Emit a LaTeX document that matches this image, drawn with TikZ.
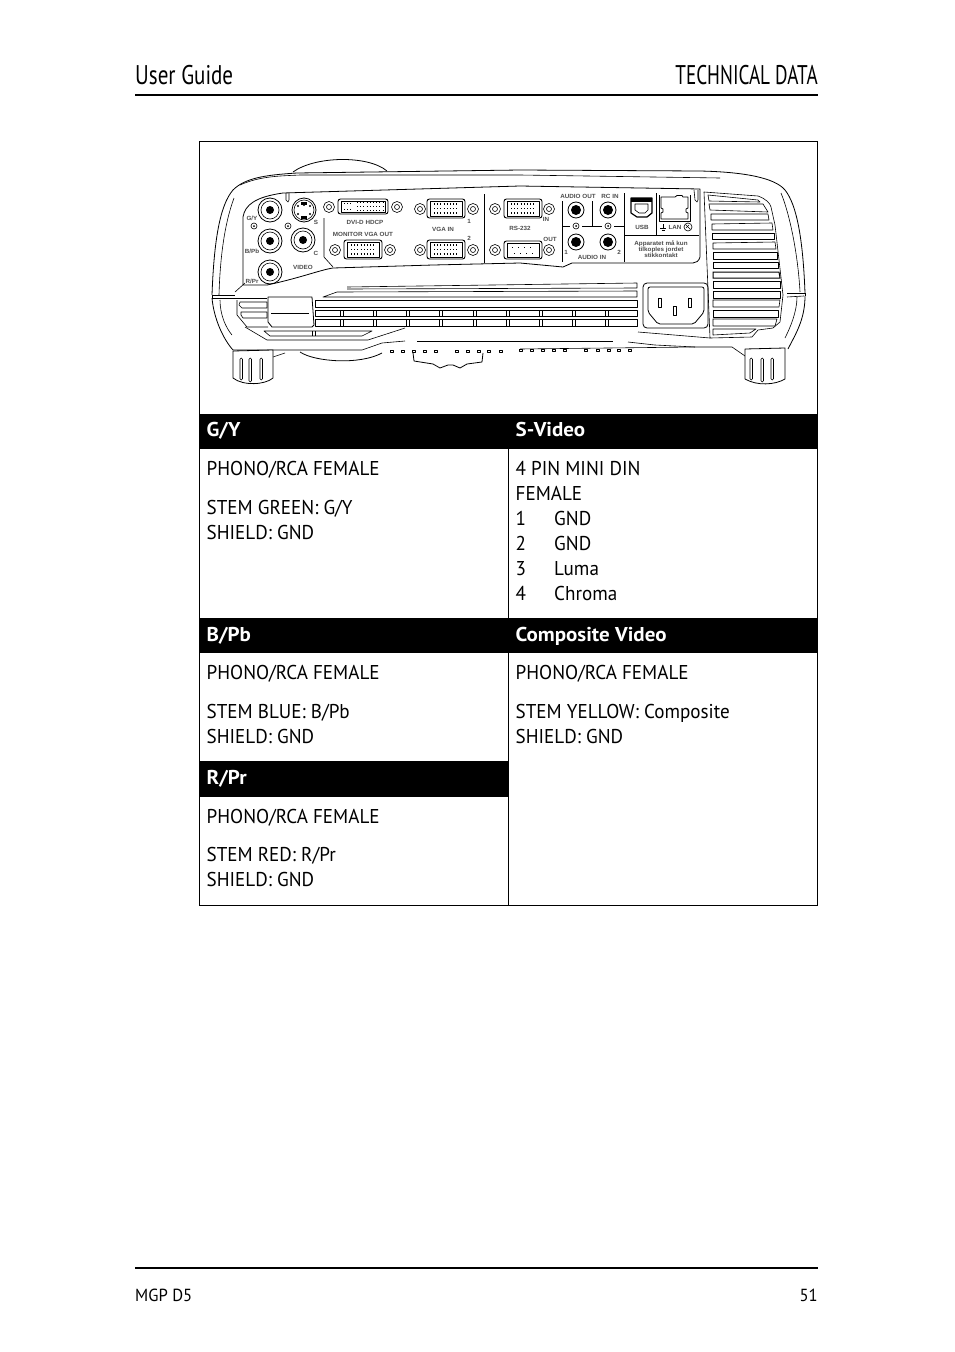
\documentclass[tikz,border=0pt]{standalone}
\usepackage{fontspec}
\setmainfont{PT Sans}
\newfontfamily\tinyfont[FakeStretch=1.05]{Liberation Sans}
\newfontfamily\cellfont[FakeStretch=0.955]{PT Sans}
\newfontfamily\barfont[FakeStretch=1.05]{PT Sans}
\newfontfamily\guidefont[FakeStretch=0.78]{PT Sans}
\newfontfamily\chapterfont[FakeStretch=0.71]{PT Sans}
\newfontfamily\footfont[FakeStretch=0.95]{PT Sans}
\tikzset{
  outline/.style={line width=0.8pt, line join=round},
  thinline/.style={line width=0.6pt, line join=round},
  shell/.style={line width=0.9pt, rounded corners=2.5pt},
  pinrow/.style={line width=1.3pt, dash pattern=on 1pt off 2.2pt},
  blackbar/.style={fill=black, draw=none},
  rule/.style={line width=2pt},
  gridline/.style={line width=1pt},
  celltext/.style={anchor=base west, inner sep=0pt, font=\cellfont\fontsize{20}{25}\selectfont},
  bartext/.style={anchor=base west, inner sep=0pt, text=white, font=\barfont\fontsize{20}{25}\selectfont\bfseries},
  runtext/.style={inner sep=0pt, font=\footfont\fontsize{17.5}{20}\selectfont},
  smalllabel/.style={inner sep=0pt, text=black!70, align=center, font=\tinyfont\bfseries\fontsize{6}{6.2}\selectfont}
}
\begin{document}
\begin{tikzpicture}[x=1pt,y=-1pt]
\useasboundingbox (0,0) rectangle (954,1352);

% page head and foot
\draw [rule] (135,94.5) -- (818,94.5);
\draw [rule] (135,1268) -- (818,1268);
\node [inner sep=0pt, anchor=base west, font=\guidefont\fontsize{27}{30}\selectfont] (guide) at (135,84) {User Guide};
\node [inner sep=0pt, anchor=base east, font=\chapterfont\fontsize{27}{30}\selectfont] (chapter) at (818,84) {TECHNICAL DATA};
\node [runtext, anchor=base west] (model) at (135,1301) {MGP D5};
\node [runtext, anchor=base east] (pageno) at (818,1301) {51};

% table
\fill [blackbar] (199,414) rectangle (818,449);
\fill [blackbar] (199,618) rectangle (818,653);
\fill [blackbar] (199,761) rectangle (509,797);
\draw [gridline] (199.5,141.5) rectangle (817.5,905.5);
\draw [gridline] (508.5,449) -- (508.5,618);
\draw [gridline] (508.5,653) -- (508.5,905.5);

\node [bartext] (gyhead) at (206.5,436) {G/Y};
\node [bartext] (svhead) at (515.5,436) {S-Video};
\node [bartext] (bphead) at (206.5,641) {B/Pb};
\node [bartext] (cvhead) at (515.5,641) {Composite Video};
\node [bartext] (rphead) at (206.5,784) {R/Pr};

\node [celltext] (gya) at (206.5,475) {PHONO/RCA FEMALE};
\node [celltext] (gyb) at (206.5,514) {STEM GREEN: G/Y};
\node [celltext] (gyc) at (206.5,539) {SHIELD: GND};
\node [celltext] (sva) at (515.5,475) {4 PIN MINI DIN};
\node [celltext] (svb) at (515.5,500) {FEMALE};
\node [celltext] (svc) at (515.5,525) {1};
\node [celltext] (svd) at (554,525) {GND};
\node [celltext] (sve) at (515.5,550) {2};
\node [celltext] (svf) at (554,550) {GND};
\node [celltext] (svg) at (515.5,575) {3};
\node [celltext] (svh) at (554,575) {Luma};
\node [celltext] (svi) at (515.5,600) {4};
\node [celltext] (svj) at (554,600) {Chroma};
\node [celltext] (bpa) at (206.5,679) {PHONO/RCA FEMALE};
\node [celltext] (bpb) at (206.5,718) {STEM BLUE: B/Pb};
\node [celltext] (bpc) at (206.5,743) {SHIELD: GND};
\node [celltext] (cva) at (515.5,679) {PHONO/RCA FEMALE};
\node [celltext] (cvb) at (515.5,718) {STEM YELLOW: Composite};
\node [celltext] (cvc) at (515.5,743) {SHIELD: GND};
\node [celltext] (rpa) at (206.5,823) {PHONO/RCA FEMALE};
\node [celltext] (rpb) at (206.5,861) {STEM RED: R/Pr};
\node [celltext] (rpc) at (206.5,886) {SHIELD: GND};

% lens ring behind the housing, dial below
\draw [outline] (293,172) .. controls (315,156) and (368,155) .. (387,171);
\draw [outline] (300,352) .. controls (315,362) and (360,365) .. (382,353);
\draw [outline] (413,353) -- (414,361) -- (433,364) -- (440,368) -- (448,365) -- (453,365) -- (460,368) -- (467,364) -- (482,362) -- (483,353);

% housing
\draw [outline] (212,295) .. controls (214,240) and (220,205) .. (233,190) .. controls (245,178) and (265,175) .. (297,173) -- (520,170) -- (700,171) .. controls (745,172) and (775,178) .. (785,190) .. controls (797,205) and (803,240) .. (805,293);
\draw [outline] (805,296) .. controls (805,320) and (795,335) .. (788,349);
\draw [outline] (212,298) .. controls (214,320) and (224,340) .. (233,350);
\draw [outline] (212,295) -- (235,295);
\draw [outline] (212,298) -- (267,298);
\draw [outline] (212,295) -- (212,298);
\draw [outline] (805,293) -- (805,296);
\draw [thinline] (273,357) -- (285,353);
\draw [thinline] (233,350) -- (362,350) -- (382,343) -- (405,341);
\draw [thinline] (520,349) -- (695,347) -- (732,347) -- (745,356);
\draw [thinline] (240,185) .. controls (260,176) and (280,176) .. (300,175) -- (520,175) -- (720,178);
\draw [thinline] (234,198) .. controls (224,225) and (220,260) .. (219,295);
\draw [thinline] (220,300) .. controls (220,315) and (226,328) .. (232,335);
\draw [thinline] (235,292) -- (245,283);
\draw [thinline] (781,193) .. controls (790,215) and (798,255) .. (800,292);
\draw [thinline] (787,293) -- (805,293);
\draw [thinline] (787,297) -- (804,296);
\draw [thinline] (797,297) .. controls (797,312) and (790,328) .. (785,338);
\draw [thinline] (245,327) -- (267,340) -- (368,340) -- (405,328);
\draw [thinline] (237,300) -- (237,315) -- (247,327) -- (268,327);
\draw [line width=1pt] (417,341) -- (613,341);
\draw [thinline] (628,342) -- (655,345) -- (695,347);

% connector panel
\draw [outline] (243,285) -- (243,217) .. controls (245,205) and (255,197) .. (283,193) -- (520,186) -- (700,189) -- (700,257) .. controls (699,261) and (696,263) .. (693,263) -- (572,263) -- (563,267) -- (520,263) -- (433,265) -- (333,268) .. controls (320,270) and (300,278) .. (267,285) -- cycle;
\draw [thinline] (286,193) -- (286,200) -- (288,202) -- (289,200) -- (289,193);
\draw [thinline] (694,190) -- (695,200) -- (697,202) -- (698,200) -- (698,190);
\draw [thinline] (324,218) -- (324,257) -- (333,267);
\draw [thinline] (484,194) -- (484,263);
\draw [thinline] (562,201) -- (562,262);
\draw [thinline] (592,201) -- (592,226);
\draw [thinline] (624,193) -- (624,262);
\draw [thinline] (656,193) -- (656,235);
\draw [thinline] (562,226) -- (570,226);
\draw [thinline] (582,226) -- (602,226);
\draw [thinline] (614,226) -- (624,226);
\draw [thinline] (624,235) -- (699,235);

% phono jacks
\draw [outline] (270,210) circle (12);
\draw [thinline] (270,210) circle (9);
\fill (270,210) circle (4);
\draw [outline] (270,241) circle (12);
\draw [thinline] (270,241) circle (9);
\fill (270,241) circle (4);
\draw [outline] (270,272) circle (12);
\draw [thinline] (270,272) circle (9);
\fill (270,272) circle (4);
\draw [outline] (303,240) circle (12);
\draw [thinline] (303,240) circle (9);
\fill (303,240) circle (4);

% s-video
\draw [outline] (304,210) circle (12);
\draw [thinline] (304,210) circle (10);
\fill (301,202) rectangle (307,204.5);
\fill (301,216) rectangle (307,218.5);
\fill (298,206) circle (1.2);
\fill (310,206) circle (1.2);
\fill (304,205) circle (1.2);
\fill (298,214) circle (1.2);
\fill (310,214) circle (1.2);

% ground studs
\draw [thinline] (254,226) circle (3);
\fill (254,226) circle (1);
\draw [thinline] (288,226) circle (3);
\fill (288,226) circle (1);
\draw [thinline] (576,226) circle (3);
\fill (576,226) circle (1);
\draw [thinline] (608,226) circle (3);
\fill (608,226) circle (1);

% audio jacks
\draw [outline] (576,210) circle (8);
\fill (576,210) circle (5);
\draw [outline] (608,210) circle (8);
\fill (608,210) circle (5);
\draw [outline] (576,242) circle (8);
\fill (576,242) circle (5);
\draw [outline] (608,242) circle (8);
\fill (608,242) circle (5);

% dvi
\draw [thinline] (329,207) circle (5.5);
\draw [thinline] (329,207) circle (2.5);
\draw [thinline] (397,207) circle (5.5);
\draw [thinline] (397,207) circle (2.5);
\draw [shell] (338,199) rectangle (388,214);
\draw [thinline] (341,201) rectangle (385,212);
\draw [pinrow] (344,203.5) -- (352,203.5);
\draw [pinrow] (344,209.5) -- (352,209.5);
\draw [pinrow] (357,202.5) -- (383,202.5);
\draw [pinrow] (357,206.5) -- (383,206.5);
\draw [pinrow] (357,210.5) -- (383,210.5);

% monitor out
\draw [thinline] (335,250) circle (5.5);
\draw [thinline] (335,250) circle (2.5);
\draw [thinline] (390,250) circle (5.5);
\draw [thinline] (390,250) circle (2.5);
\draw [shell] (344,240) rectangle (382,259);
\draw [thinline] (347,242) rectangle (379,257);
\draw [pinrow] (351,245) -- (375,245);
\draw [pinrow] (351,249.5) -- (375,249.5);
\draw [pinrow] (351,254) -- (375,254);

% vga in 1
\draw [thinline] (420,209) circle (5.5);
\draw [thinline] (420,209) circle (2.5);
\draw [thinline] (473,209) circle (5.5);
\draw [thinline] (473,209) circle (2.5);
\draw [shell] (427,199) rectangle (465,218);
\draw [thinline] (430,201) rectangle (462,216);
\draw [pinrow] (434,204) -- (458,204);
\draw [pinrow] (434,208.5) -- (458,208.5);
\draw [pinrow] (434,213) -- (458,213);

% vga in 2
\draw [thinline] (420,250) circle (5.5);
\draw [thinline] (420,250) circle (2.5);
\draw [thinline] (473,250) circle (5.5);
\draw [thinline] (473,250) circle (2.5);
\draw [shell] (427,240) rectangle (465,259);
\draw [thinline] (430,242) rectangle (462,257);
\draw [pinrow] (434,245) -- (458,245);
\draw [pinrow] (434,249.5) -- (458,249.5);
\draw [pinrow] (434,254) -- (458,254);

% rs-232 in
\draw [thinline] (495,209) circle (5.5);
\draw [thinline] (495,209) circle (2.5);
\draw [thinline] (549,209) circle (5.5);
\draw [thinline] (549,209) circle (2.5);
\draw [shell] (504,199) rectangle (542,218);
\draw [thinline] (507,201) rectangle (539,216);
\draw [pinrow] (511,204) -- (535,204);
\draw [pinrow] (511,208.5) -- (535,208.5);
\draw [pinrow] (511,213) -- (535,213);

% rs-232 out
\draw [thinline] (495,250) circle (5.5);
\draw [thinline] (495,250) circle (2.5);
\draw [thinline] (549,250) circle (5.5);
\draw [thinline] (549,250) circle (2.5);
\draw [shell] (504,241) rectangle (542,259);
\draw [thinline] (507,243) rectangle (539,257);
\draw [thinline, dash pattern=on 1pt off 5pt] (512,247) -- (534,247);
\draw [thinline, dash pattern=on 1pt off 5pt] (514,253) -- (534,253);

% usb and lan
\draw [line width=1.2pt, line join=round] (631,198) -- (652,198) -- (652,213) -- (647,217) -- (637,217) -- (631,213) -- cycle;
\draw [thinline] (635,204) -- (648,204) -- (648,210) -- (645,213) -- (639,213) -- (635,210) -- cycle;
\fill (631,198) rectangle (652,202);
\draw [thinline] (659,195) -- (659,221) -- (690,221) -- (690,195);
\draw [outline] (661,197) -- (675,197) -- (677,195.5) -- (682,195.5) -- (683,197) -- (688,197) -- (688,208) -- (686,209) -- (686,212) -- (688,213) -- (688,219) -- (661,219) -- (661,213) -- (663,212) -- (663,209) -- (661,208) -- cycle;
\draw [thinline] (660,228) -- (666,228);
\draw [thinline] (663,224) -- (663,228);
\draw [thinline] (661.5,230) -- (664.5,230);
\draw [thinline] (688,227) circle (4);
\draw [thinline] (685.5,224.5) -- (690.5,229.5);
\draw [thinline] (686,228) -- (689,225);

% panel labels
\node [smalllabel] (lbgy) at (252,218) {G/Y};
\node [smalllabel] (lbbp) at (252,251) {B/Pb};
\node [smalllabel] (lbrp) at (252,281) {R/Pr};
\node [smalllabel] (lbs) at (316,222) {S};
\node [smalllabel] (lbc) at (316,253) {C};
\node [smalllabel] (lbvideo) at (303,267) {VIDEO};
\node [smalllabel] (lbdvi) at (365,222) {DVI-D HDCP};
\node [smalllabel] (lbmon) at (363,234) {MONITOR VGA OUT};
\node [smalllabel] (lbone) at (469,221) {1};
\node [smalllabel] (lbvga) at (443,229) {VGA IN};
\node [smalllabel] (lbtwo) at (469,238) {2};
\node [smalllabel] (lbrs) at (520,228) {RS-232};
\node [smalllabel] (lbin) at (546,219) {IN};
\node [smalllabel] (lbout) at (550,239) {OUT};
\node [smalllabel] (lbaout) at (578,196) {AUDIO OUT};
\node [smalllabel] (lbrc) at (610,196) {RC IN};
\node [smalllabel] (lbaone) at (566,252) {1};
\node [smalllabel] (lbatwo) at (619,252) {2};
\node [smalllabel] (lbain) at (592,257) {AUDIO IN};
\node [smalllabel] (lbusb) at (642,227) {USB};
\node [smalllabel] (lblan) at (675,227) {LAN};
\node [smalllabel] (lbwarn) at (661,249) {Apparatet må kun\\tilkoples jordet\\stikkontakt};

% lower grille
\draw [thinline] (347,287) -- (637,283) -- (637,288) -- (347,289);
\draw [thinline] (323,297) -- (337,292) -- (637,291) -- (637,297) -- cycle;
\draw [thinline] (315,300) rectangle (637,307);
\draw [thinline] (315,310) rectangle (637,316);
\draw [thinline] (315,319) rectangle (637,326);
\draw [thinline] (340,310) -- (340,316) (343,310) -- (343,316) (340,319) -- (340,326) (343,319) -- (343,326);
\draw [thinline] (373,310) -- (373,316) (376,310) -- (376,316) (373,319) -- (373,326) (376,319) -- (376,326);
\draw [thinline] (406,310) -- (406,316) (409,310) -- (409,316) (406,319) -- (406,326) (409,319) -- (409,326);
\draw [thinline] (439,310) -- (439,316) (442,310) -- (442,316) (439,319) -- (439,326) (442,319) -- (442,326);
\draw [thinline] (473,310) -- (473,316) (476,310) -- (476,316) (473,319) -- (473,326) (476,319) -- (476,326);
\draw [thinline] (506,310) -- (506,316) (509,310) -- (509,316) (506,319) -- (506,326) (509,319) -- (509,326);
\draw [thinline] (539,310) -- (539,316) (542,310) -- (542,316) (539,319) -- (539,326) (542,319) -- (542,326);
\draw [thinline] (572,310) -- (572,316) (575,310) -- (575,316) (572,319) -- (572,326) (575,319) -- (575,326);
\draw [thinline] (605,310) -- (605,316) (608,310) -- (608,316) (605,319) -- (605,326) (608,319) -- (608,326);
\draw [thinline] (264,331) -- (372,331) -- (362,336) -- (270,336) -- cycle;
\draw [thinline] (312.5,331) -- (312.5,336) (315,331) -- (315,336);
\draw [thinline] (240,302) -- (267,302) -- (267,308) -- (242,308) -- (239,305) -- cycle;
\draw [thinline] (241,312) -- (267,312) -- (267,318) -- (243,318) -- (241,315) -- cycle;

% lens slide
\draw [outline, fill=white] (268,297) -- (312,297) -- (314,325) -- (312,327) -- (272,327) -- (268,322) -- cycle;
\draw [line width=1pt] (271,313) -- (309,313);

% vents on the right
\draw [thinline] (704,192) -- (758,196) .. controls (766,199) and (770,203) .. (771,207) -- (775,225) -- (783,295) -- (780,322) -- (773,328) -- (758,330) -- (752,337) -- (710,338) -- cycle;
\draw [thinline] (708,195) -- (758,200) -- (760,202) -- (709,201) -- cycle;
\draw [thinline] (709,204) -- (763,204) -- (768,212) -- (710,210) -- cycle;
\draw [thinline] (711,214) -- (768,214) -- (769,220) -- (711,220) -- cycle;
\draw [thinline] (712,224) -- (772,223) -- (773,230) -- (712,230) -- cycle;
\draw [thinline] (712,233) -- (774,233) -- (774,239) -- (712,239) -- cycle;
\draw [thinline] (713,243) -- (775,242) -- (776,249) -- (713,249) -- cycle;
\draw [thinline] (713,252) -- (777,252) -- (777,259) -- (713,259) -- cycle;
\draw [thinline] (713,262) -- (778,262) -- (778,268) -- (713,268) -- cycle;
\draw [line width=1pt] (713,272) -- (779,272) -- (780,278) -- (713,278) -- cycle;
\draw [thinline] (713,281) -- (780,281) -- (780,288) -- (713,288) -- cycle;
\draw [thinline] (713,291) -- (780,291) -- (780,298) -- (713,298) -- cycle;
\draw [thinline] (713,300) -- (780,300) -- (779,307) -- (713,307) -- cycle;
\draw [thinline] (713,310) -- (778,310) -- (778,317) -- (713,317) -- cycle;
\draw [thinline] (713,319) -- (777,319) -- (775,326) -- (713,326) -- cycle;
\draw [thinline] (713,329) -- (756,329) -- (750,333) -- (713,335) -- cycle;

% mains socket
\draw [outline, rounded corners=4pt] (643,283) rectangle (708,328);
\draw [thinline] (638,332) -- (710,338);
\draw [outline, rounded corners=2pt] (648,287) -- (704,287) -- (704,312) -- (694,324) -- (658,324) -- (648,312) -- cycle;
\draw [outline] (658,298) rectangle (661,307);
\draw [outline] (688,298) rectangle (691,307);
\draw [outline] (673,306) rectangle (676,315);

% row of small marks along the base
\draw [thinline] (390,350) rectangle +(3,2) (401,350) rectangle +(3,2) (412,350) rectangle +(3,2) (423,350) rectangle +(3,2) (434,350) rectangle +(3,2);
\draw [thinline] (455,350) rectangle +(3,2) (466,350) rectangle +(3,2) (477,350) rectangle +(3,2) (487,350) rectangle +(3,2) (499,350) rectangle +(3,2);
\draw [thinline] (519,349) rectangle +(3,2) (530,349) rectangle +(3,2) (541,349) rectangle +(3,2) (552,349) rectangle +(3,2) (563,349) rectangle +(3,2);
\draw [thinline] (584,349) rectangle +(3,2) (596,349) rectangle +(3,2) (607,349) rectangle +(3,2) (617,349) rectangle +(3,2) (628,349) rectangle +(3,2);

% feet
\draw [outline, fill=white] (233,351) -- (273,350) -- (273,378) .. controls (265,385) and (243,386) .. (233,378) -- cycle;
\draw [thinline, rounded corners=1.2pt] (240,358) rectangle (242.5,380);
\draw [thinline, rounded corners=1.2pt] (249,358) rectangle (251.5,382);
\draw [thinline, rounded corners=1.2pt] (260,358) rectangle (262.5,380);
\draw [outline, fill=white] (745,349) -- (785,348) -- (785,379) .. controls (775,385) and (757,386) .. (745,379) -- cycle;
\draw [thinline, rounded corners=1.2pt] (750,358) rectangle (752.5,380);
\draw [thinline, rounded corners=1.2pt] (761,358) rectangle (763.5,382);
\draw [thinline, rounded corners=1.2pt] (771,358) rectangle (773.5,380);
\end{tikzpicture}
\end{document}
